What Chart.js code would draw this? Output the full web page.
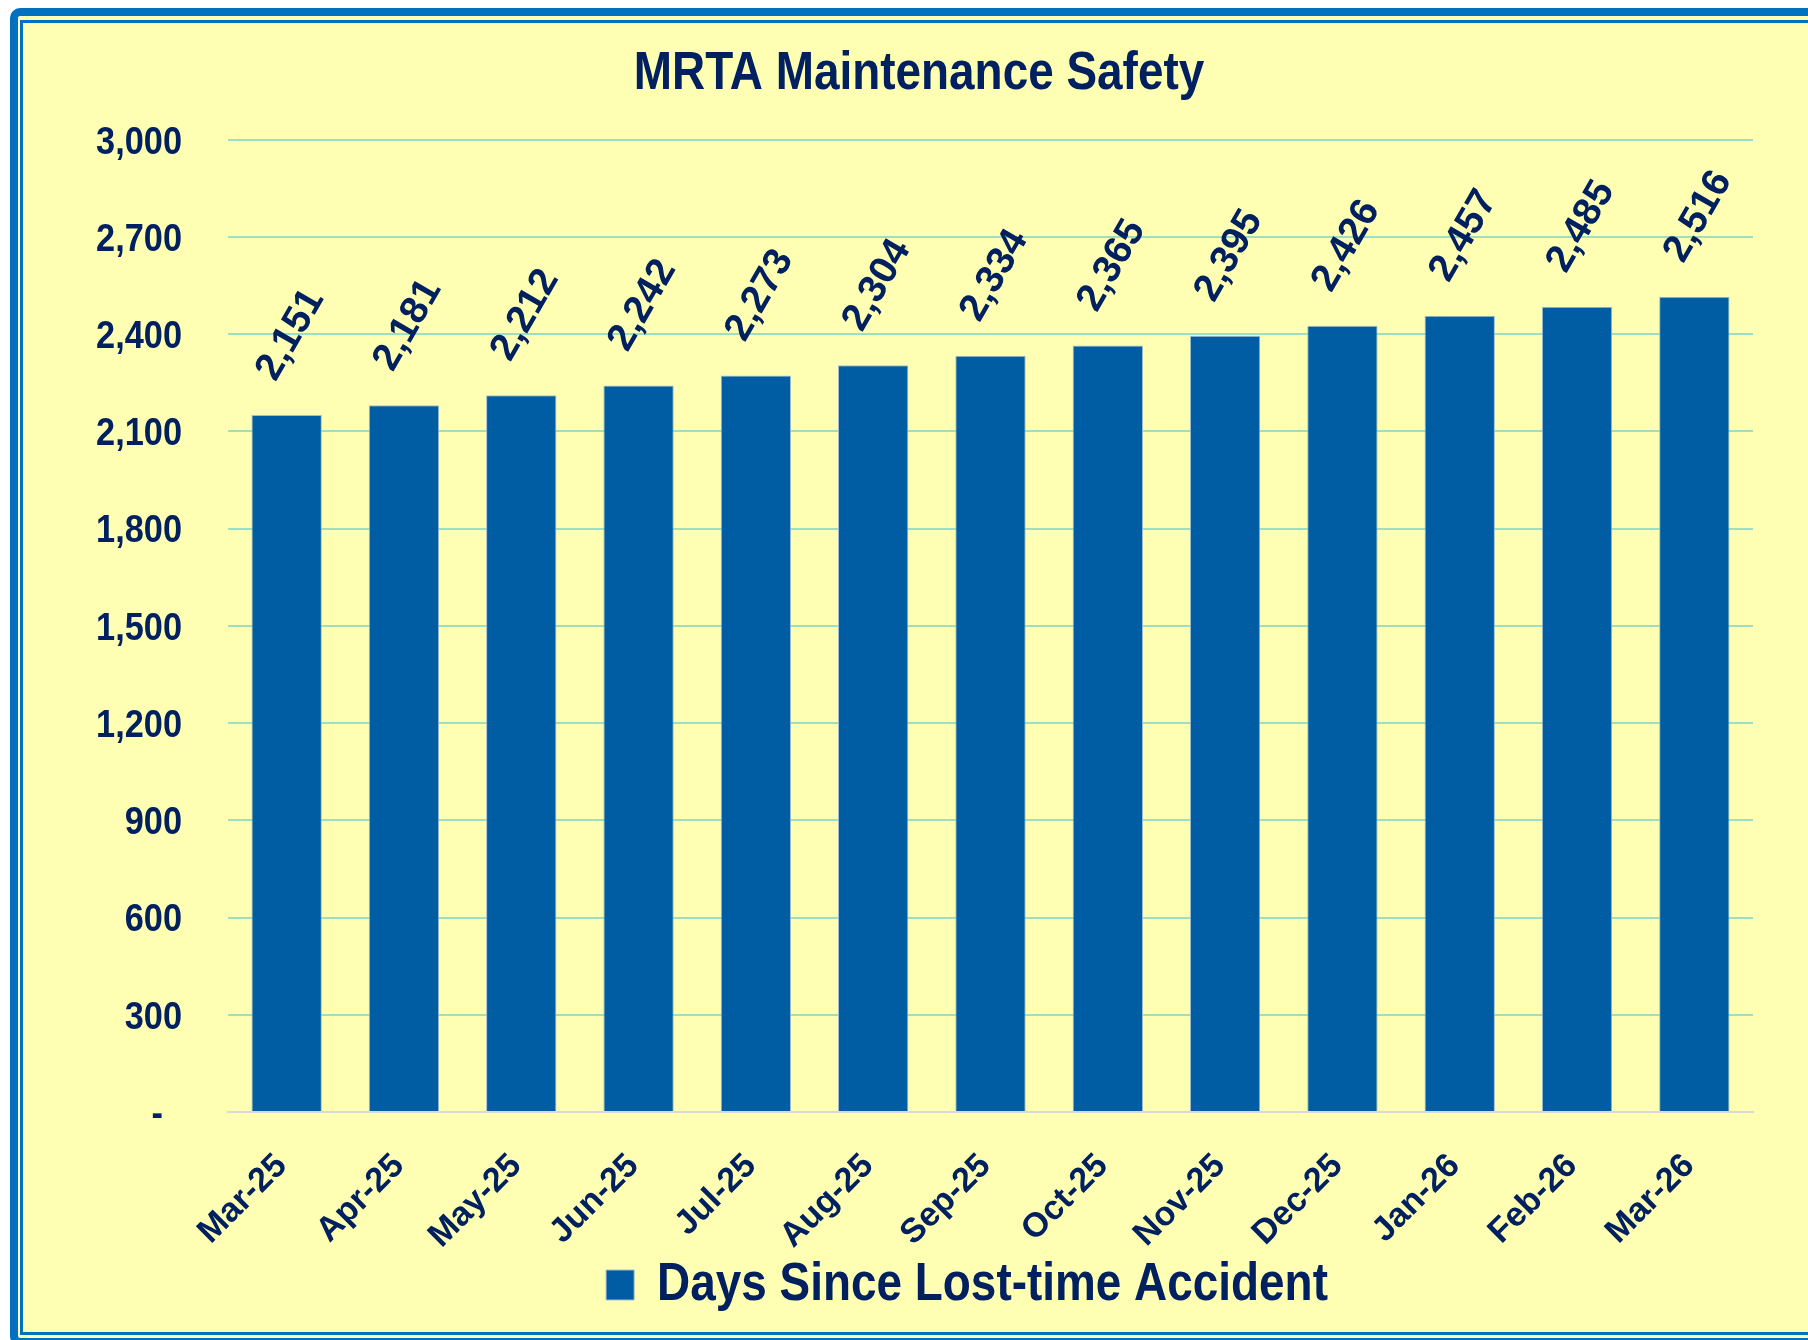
<!DOCTYPE html>
<html>
<head>
<meta charset="utf-8">
<script src="https://cdn.jsdelivr.net/npm/chart.js@4"></script>
<style>
  html, body { margin: 0; padding: 0; background: #fff; overflow: hidden; }
  body { width: 1808px; height: 1340px; position: relative; }
  #frame {
    position: absolute; left: 10px; top: 8px; width: 1840px; height: 1338px;
    box-sizing: border-box; border: 8px solid #0070C0; border-radius: 10px;
    background: #FFFFB4;
  }
  #inner {
    position: absolute; left: 20px; top: 20px; width: 1830px; height: 1315px;
    box-sizing: border-box; border: 3px solid #0070C0;
  }
  #wrap { position: absolute; left: 23px; top: 23px; width: 1792px; height: 1309px; }
</style>
</head>
<body>
<div id="frame"></div>
<div id="inner"></div>
<div id="wrap"><canvas id="myChart"></canvas></div>
<script>
const months = ['Mar-25','Apr-25','May-25','Jun-25','Jul-25','Aug-25','Sep-25','Oct-25','Nov-25','Dec-25','Jan-26','Feb-26','Mar-26'];
const daysSince = [2151, 2181, 2212, 2242, 2273, 2304, 2334, 2365, 2395, 2426, 2457, 2485, 2516];
const yTicks = [0, 300, 600, 900, 1200, 1500, 1800, 2100, 2400, 2700, 3000];

const navy = '#002060';
const barBlue = '#005DA3';
const fontFam = "'Liberation Sans', Arial, sans-serif";

// value labels above each bar, tilted like the original
const barLabels = {
  id: 'barLabels',
  afterDatasetsDraw(chart) {
    const ctx = chart.ctx;
    const meta = chart.getDatasetMeta(0);
    ctx.save();
    ctx.fillStyle = navy;
    ctx.font = 'bold 39px ' + fontFam;
    ctx.textAlign = 'center';
    ctx.textBaseline = 'middle';
    meta.data.forEach((bar, i) => {
      ctx.save();
      ctx.translate(bar.x + 4, bar.y - 80);
      ctx.rotate(-Math.PI / 3);
      ctx.fillText(daysSince[i].toLocaleString('en-US'), 0, 0);
      ctx.restore();
    });
    ctx.restore();
  }
};

// the original uses a narrow font; squeeze the text horizontally around x = cx(box)
function squeeze(box, method, factor, getX, dy) {
  const key = '_sq_' + method;
  if (box[key]) return;
  const orig = box[method].bind(box);
  box[method] = function (area) {
    const c = this.ctx;
    const cx = getX(this);
    c.save();
    c.translate(cx, dy);
    c.scale(factor, 1);
    c.translate(-cx, 0);
    orig(area);
    c.restore();
  };
  box[key] = true;
}

// title and legend are not centred on the same x in the original
const boxShift = {
  id: 'boxShift',
  afterLayout(chart) {
    const t = chart.titleBlock;
    t.left += 31;
    t.right += 31;
    const l = chart.legend;
    l.left += 79;
    l.right += 79;
    const mid = b => (b.left + b.right) / 2;
    squeeze(t, 'draw', 0.85, mid, 0);
    squeeze(l, 'draw', 0.85, mid, 0);
    squeeze(chart.scales.y, 'drawLabels', 0.88, s => s.right - 46, 3);
  }
};

const ctx = document.getElementById('myChart');
const myChart = new Chart(ctx, {
  type: 'bar',
  data: {
    labels: months,
    datasets: [{
      label: 'Days Since Lost-time Accident',
      data: daysSince,
      backgroundColor: barBlue,
      borderColor: '#9FBCD3',
      borderWidth: 1,
      categoryPercentage: 1,
      barPercentage: 0.6
    }]
  },
  options: {
    responsive: true,
    maintainAspectRatio: false,
    animation: false,
    layout: { padding: { left: 0, right: 62, top: 0, bottom: 10 } },
    scales: {
      x: {
        grid: { display: false, drawTicks: false },
        border: { display: true, color: '#D9D9D9', width: 2 },
        ticks: {
          color: navy,
          font: { family: fontFam, size: 34, weight: 'bold' },
          minRotation: 45,
          maxRotation: 45,
          autoSkip: false,
          padding: 34,
          labelOffset: -5
        },
        afterFit(scale) { scale.height = 136; }
      },
      y: {
        min: 0,
        max: 3000,
        afterBuildTicks(scale) { scale.ticks = yTicks.map(v => ({ value: v })); },
        grid: { color: '#9DDFC0', lineWidth: 2, drawTicks: false },
        border: { display: false },
        ticks: {
          color: navy,
          font: { family: fontFam, size: 39, weight: 'bold' },
          padding: 46,
          callback: (v) => v === 0 ? '-  ' : v.toLocaleString('en-US')
        },
        afterFit(scale) { scale.width = 205; }
      }
    },
    plugins: {
      title: {
        display: true,
        text: 'MRTA Maintenance Safety',
        color: navy,
        font: { family: fontFam, size: 54, weight: 'bold', lineHeight: 1.2 },
        padding: { top: 19, bottom: 33 }
      },
      legend: {
        display: true,
        position: 'bottom',
        labels: {
          color: navy,
          font: { family: fontFam, size: 54, weight: 'bold' },
          boxWidth: 33,
          boxHeight: 30,
          padding: 10
        }
      },
      tooltip: { enabled: false }
    }
  },
  plugins: [barLabels, boxShift]
});
</script>
</body>
</html>
